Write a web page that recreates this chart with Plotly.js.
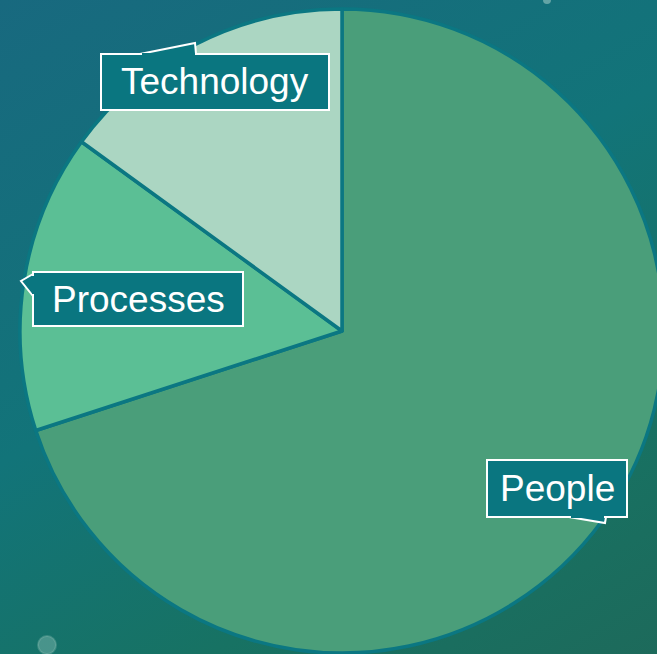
<!DOCTYPE html>
<html>
<head>
<meta charset="utf-8">
<script src="https://cdn.plot.ly/plotly-3.0.1.min.js"></script>
<style>
  html, body { margin: 0; padding: 0; overflow: hidden; width: 657px; height: 654px; }
  #bg { position: absolute; left: 0; top: 0; width: 657px; height: 654px;
        background: linear-gradient(150deg, #18697f 0%, #127479 45%, #177263 75%, #1d6a5b 100%); }
  #chart { position: absolute; left: 0; top: 0; width: 700px; height: 654px; }
</style>
</head>
<body>
<div id="bg"></div>
<div id="chart"></div>
<script>
// Data
const categories = ["People", "Processes", "Technology"];
const shares = [70, 15, 15];
const sliceColors = ["#4a9e7a", "#5bbf95", "#abd6c2"];

const W = 700, H = 654;
const px = x => x / W;
const py = y => 1 - y / H;

const trace = {
  type: "pie",
  labels: categories,
  values: shares,
  sort: false,
  direction: "clockwise",
  rotation: 0,
  textinfo: "none",
  hoverinfo: "label+percent",
  marker: { colors: sliceColors, line: { color: "#0b7782", width: 3.5 } },
  domain: { x: [px(20), px(664)], y: [1 / H, 645 / H] },
  showlegend: false
};

const labelFont = { family: "Liberation Sans, Arial, sans-serif", size: 37, color: "#ffffff" };
const boxFill = "#0a7680";

function P(pts, close) {
  return "M " + pts.map(p => px(p[0]) + "," + py(p[1])).join(" L ") + (close ? " Z" : "");
}
function rectShape(x0, y0, x1, y1, line) {
  return { type: "path", xref: "paper", yref: "paper",
           path: P([[x0, y0], [x1, y0], [x1, y1], [x0, y1]], true),
           fillcolor: boxFill, line: line, layer: "above" };
}
function callout(x0, y0, x1, y1, tailPts, cover) {
  return [
    rectShape(x0, y0, x1, y1, { color: "#ffffff", width: 2 }),
    { type: "path", xref: "paper", yref: "paper", path: P(tailPts, true),
      fillcolor: boxFill, line: { color: "#ffffff", width: 2 }, layer: "above" },
    rectShape(cover[0], cover[1], cover[2], cover[3], { width: 0 })
  ];
}
function label(text, cx, cy) {
  return { text: text, showarrow: false, xref: "paper", yref: "paper",
           x: px(cx), y: py(cy), xanchor: "center", yanchor: "middle", font: labelFont };
}

const layout = {
  width: W, height: H,
  margin: { l: 0, r: 0, t: 0, b: 0 },
  paper_bgcolor: "rgba(0,0,0,0)",
  plot_bgcolor: "rgba(0,0,0,0)",
  shapes: [
    { type: "circle", xref: "paper", yref: "paper", x0: px(38), x1: px(56), y0: py(654), y1: py(636),
      fillcolor: "rgba(170,210,200,0.35)", line: { color: "rgba(170,210,200,0.25)", width: 2 }, layer: "below" },
    { type: "circle", xref: "paper", yref: "paper", x0: px(543), x1: px(551), y0: py(4), y1: py(-4),
      fillcolor: "rgba(180,215,210,0.5)", line: { width: 0 }, layer: "below" },
    ...callout(101, 54, 329, 110, [[140, 54], [195, 43], [196, 54]], [142, 53, 195, 57]),
    ...callout(33, 272, 243, 326, [[33, 274], [21, 281], [33, 296]], [32, 276, 36, 294]),
    ...callout(487, 460, 627, 517, [[569, 517], [605, 523], [606, 517]], [571, 514, 604, 518])
  ],
  annotations: [
    label("Technology", 215, 82),
    label("Processes", 138, 299),
    label("People", 557, 488.5)
  ]
};

Plotly.newPlot("chart", [trace], layout, { displayModeBar: false, staticPlot: true });
</script>
</body>
</html>
